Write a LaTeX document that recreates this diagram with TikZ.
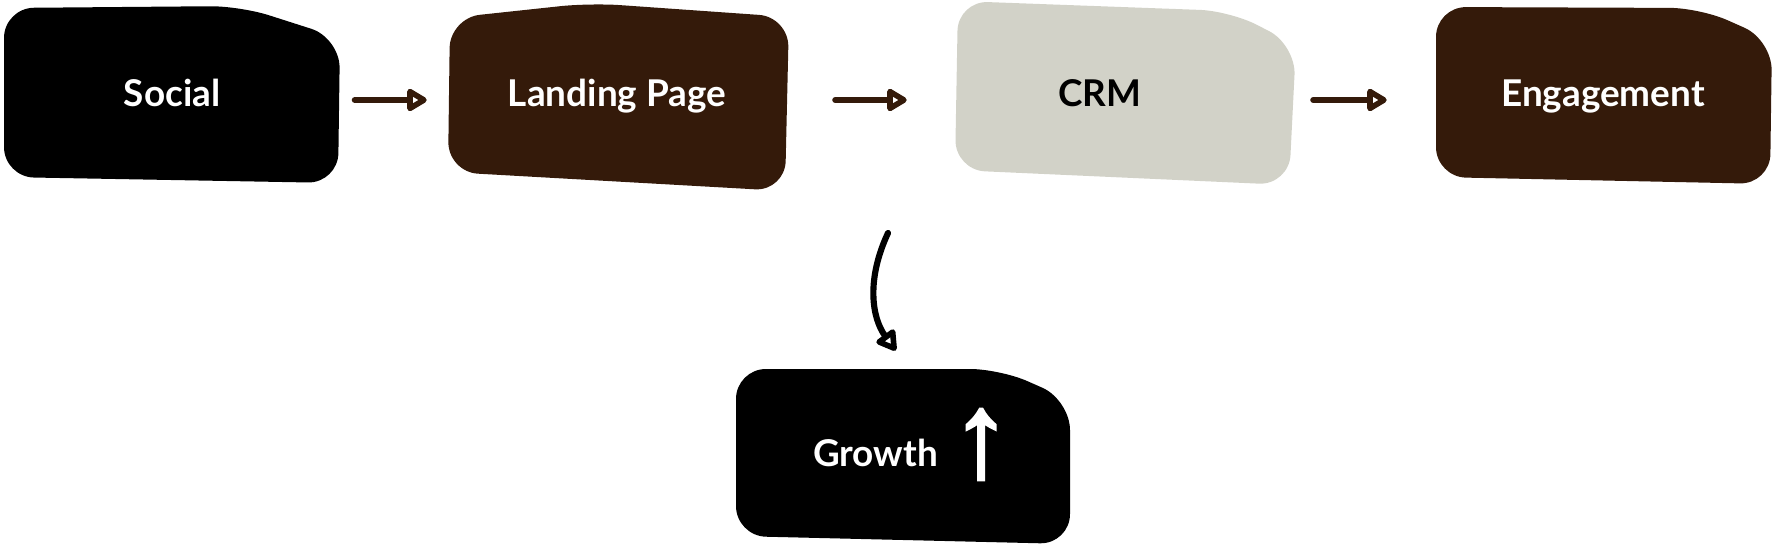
\documentclass[tikz,border=0pt]{standalone}
\usepackage{fontspec}
\setmainfont{Lato}
\newfontfamily\symfont[FakeBold=2.5]{Liberation Sans}
\usetikzlibrary{arrows.meta}
\definecolor{bark}{HTML}{341A0A}
\definecolor{stone}{HTML}{D2D2C8}
\tikzset{
  blob/.style={rounded corners=0.6cm},
  stage/.style={minimum width=#1, minimum height=3.48cm, inner sep=0pt,
    font=\fontsize{21}{25}\selectfont\bfseries, text height=0.72em, text depth=0pt},
  flow/.style={line width=3.5pt, line cap=round, color=bark,
    -{Triangle[open,round,length=0.45cm,width=0.5cm]}}
}
\begin{document}
\begin{tikzpicture}[x=0.02cm,y=0.02cm]
\useasboundingbox (0,0) rectangle (1776,-551);
\fill[black,blob] (4,-8) -- (240,-6) -- (340,-38) -- (338,-183) -- (4,-177) -- cycle;
\fill[bark,blob] (450,-18) -- (590,-3) -- (789,-17) -- (785,-191) -- (448,-172) -- cycle;
\fill[stone,blob] (958,-1) -- (1230,-11) -- (1296,-45) -- (1289,-185) -- (955,-170) -- cycle;
\fill[bark,blob] (1436,-7) -- (1700,-8) -- (1772,-40) -- (1770,-184) -- (1436,-177) -- cycle;
\fill[black,blob] (736,-369) -- (1000,-369) -- (1070,-400) -- (1070,-544) -- (736,-536) -- cycle;
\node[stage=6.7cm,text=white] (social) at (172,-100) {Social};
\node[stage=6.8cm,text=white] (landing) at (617,-100) {Landing Page};
\node[stage=6.72cm,text=black] (crm) at (1100,-100) {CRM};
\node[stage=6.72cm,text=white] (engage) at (1603,-100) {Engagement};
\node[stage=6.68cm,text=white] (growth) at (912,-460) {Growth\hspace{0.27cm}\raisebox{-0.2cm}{\symfont\fontsize{68}{68}\selectfont ↑}};
\coordinate (drop) at (888,-233);
\draw[flow,shorten <=0.3cm,shorten >=0.4cm] (social) -- (landing);
\draw[flow,shorten <=0.96cm,shorten >=0.5cm] (landing) -- (crm);
\draw[flow,shorten <=0.9cm,shorten >=0.96cm] (crm) -- (engage);
\draw[flow,black,shorten >=0.55cm] (drop) .. controls (866,-280) and (872,-318) .. (growth.north);
\end{tikzpicture}
\end{document}
